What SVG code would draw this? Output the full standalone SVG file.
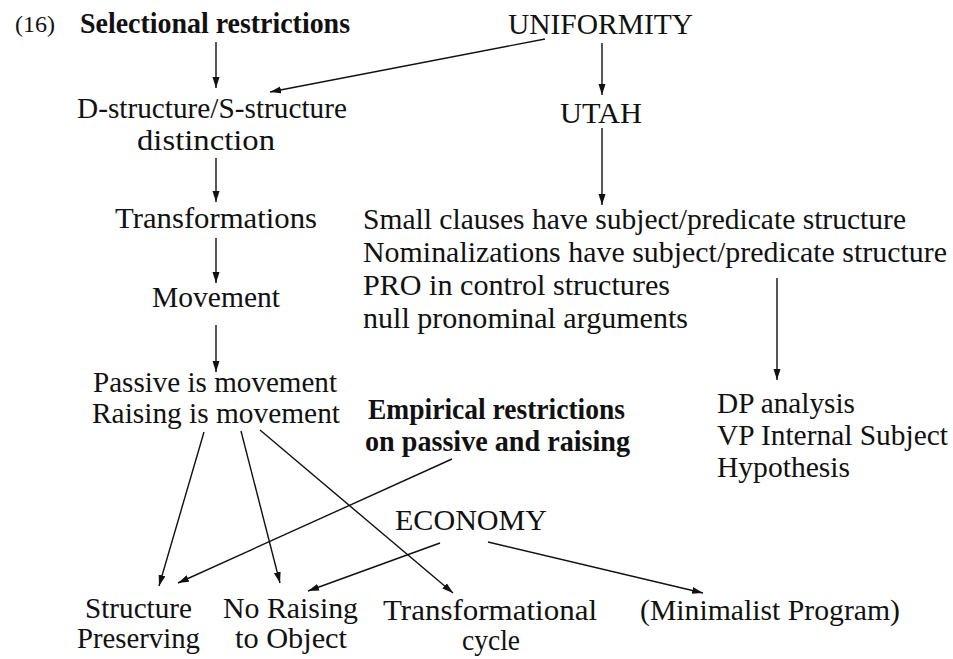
<svg xmlns="http://www.w3.org/2000/svg" width="953" height="659" viewBox="0 0 953 659">
  <style>
    text { font-family: "Liberation Serif", "Times New Roman", serif; font-size: 29px; fill: #111; }
    .b { font-weight: bold; }
    .num { font-size: 24px; }
    .edge { stroke: #111; stroke-width: 1.4; fill: none; marker-end: url(#arrow); }
  </style>
  <defs>
    <marker id="arrow" markerUnits="userSpaceOnUse" markerWidth="12" markerHeight="8" refX="11" refY="3.5" orient="auto">
      <path d="M0,0 L11,3.5 L0,7 z" fill="#111"/>
    </marker>
  </defs>
  <rect width="953" height="659" fill="#fff"/>

  <text class="num" x="15" y="32">(16)</text>

  <g id="selectional">
    <text class="b" x="80" y="33" textLength="270" lengthAdjust="spacingAndGlyphs">Selectional restrictions</text>
  </g>
  <g id="uniformity">
    <text x="508" y="34" textLength="185" lengthAdjust="spacingAndGlyphs">UNIFORMITY</text>
  </g>
  <g id="dsstructure">
    <text x="77" y="118" textLength="270" lengthAdjust="spacingAndGlyphs">D-structure/S-structure</text>
    <text x="137" y="150" textLength="138" lengthAdjust="spacingAndGlyphs">distinction</text>
  </g>
  <g id="utah">
    <text x="560" y="123" textLength="82" lengthAdjust="spacingAndGlyphs">UTAH</text>
  </g>
  <g id="transformations">
    <text x="115" y="228" textLength="202" lengthAdjust="spacingAndGlyphs">Transformations</text>
  </g>
  <g id="movement">
    <text x="152" y="307" textLength="128" lengthAdjust="spacingAndGlyphs">Movement</text>
  </g>
  <g id="utah-consequences">
    <text x="363" y="229" textLength="543" lengthAdjust="spacingAndGlyphs">Small clauses have subject/predicate structure</text>
    <text x="363" y="262" textLength="584" lengthAdjust="spacingAndGlyphs">Nominalizations have subject/predicate structure</text>
    <text x="363" y="295" textLength="307" lengthAdjust="spacingAndGlyphs">PRO in control structures</text>
    <text x="363" y="328" textLength="325" lengthAdjust="spacingAndGlyphs">null pronominal arguments</text>
  </g>
  <g id="passive-raising">
    <text x="93" y="392" textLength="244" lengthAdjust="spacingAndGlyphs">Passive is movement</text>
    <text x="92" y="423" textLength="248" lengthAdjust="spacingAndGlyphs">Raising is movement</text>
  </g>
  <g id="empirical">
    <text class="b" x="368" y="419" textLength="257" lengthAdjust="spacingAndGlyphs">Empirical restrictions</text>
    <text class="b" x="365" y="451" textLength="265" lengthAdjust="spacingAndGlyphs">on passive and raising</text>
  </g>
  <g id="dp-vp">
    <text x="717" y="413" textLength="138" lengthAdjust="spacingAndGlyphs">DP analysis</text>
    <text x="717" y="445" textLength="231" lengthAdjust="spacingAndGlyphs">VP Internal Subject</text>
    <text x="717" y="477" textLength="133" lengthAdjust="spacingAndGlyphs">Hypothesis</text>
  </g>
  <g id="economy">
    <text x="395" y="530" textLength="152" lengthAdjust="spacingAndGlyphs">ECONOMY</text>
  </g>
  <g id="structure-preserving">
    <text x="85" y="618" textLength="107" lengthAdjust="spacingAndGlyphs">Structure</text>
    <text x="77" y="648" textLength="123" lengthAdjust="spacingAndGlyphs">Preserving</text>
  </g>
  <g id="no-raising">
    <text x="223" y="618" textLength="135" lengthAdjust="spacingAndGlyphs">No Raising</text>
    <text x="235" y="648" textLength="112" lengthAdjust="spacingAndGlyphs">to Object</text>
  </g>
  <g id="transformational-cycle">
    <text x="383" y="620" textLength="214" lengthAdjust="spacingAndGlyphs">Transformational</text>
    <text x="462" y="650" textLength="58" lengthAdjust="spacingAndGlyphs">cycle</text>
  </g>
  <g id="minimalist">
    <text x="640" y="620" textLength="260" lengthAdjust="spacingAndGlyphs">(Minimalist Program)</text>
  </g>

  <g id="connectors">
    <line class="edge" x1="216" y1="42" x2="216" y2="88"/>
    <line class="edge" x1="545" y1="39" x2="270" y2="92"/>
    <line class="edge" x1="602" y1="43" x2="602" y2="95"/>
    <line class="edge" x1="216" y1="158" x2="216" y2="202"/>
    <line class="edge" x1="602" y1="128" x2="602" y2="205"/>
    <line class="edge" x1="216" y1="238" x2="216" y2="283"/>
    <line class="edge" x1="216" y1="325" x2="216" y2="372"/>
    <line class="edge" x1="777" y1="278" x2="777" y2="380"/>
    <line class="edge" x1="204" y1="432" x2="159" y2="586"/>
    <line class="edge" x1="241" y1="431" x2="280" y2="583"/>
    <line class="edge" x1="260" y1="430" x2="453" y2="593"/>
    <line class="edge" x1="452" y1="459" x2="178" y2="583"/>
    <line class="edge" x1="440" y1="543" x2="308" y2="591"/>
    <line class="edge" x1="488" y1="542" x2="703" y2="593"/>
  </g>
</svg>
